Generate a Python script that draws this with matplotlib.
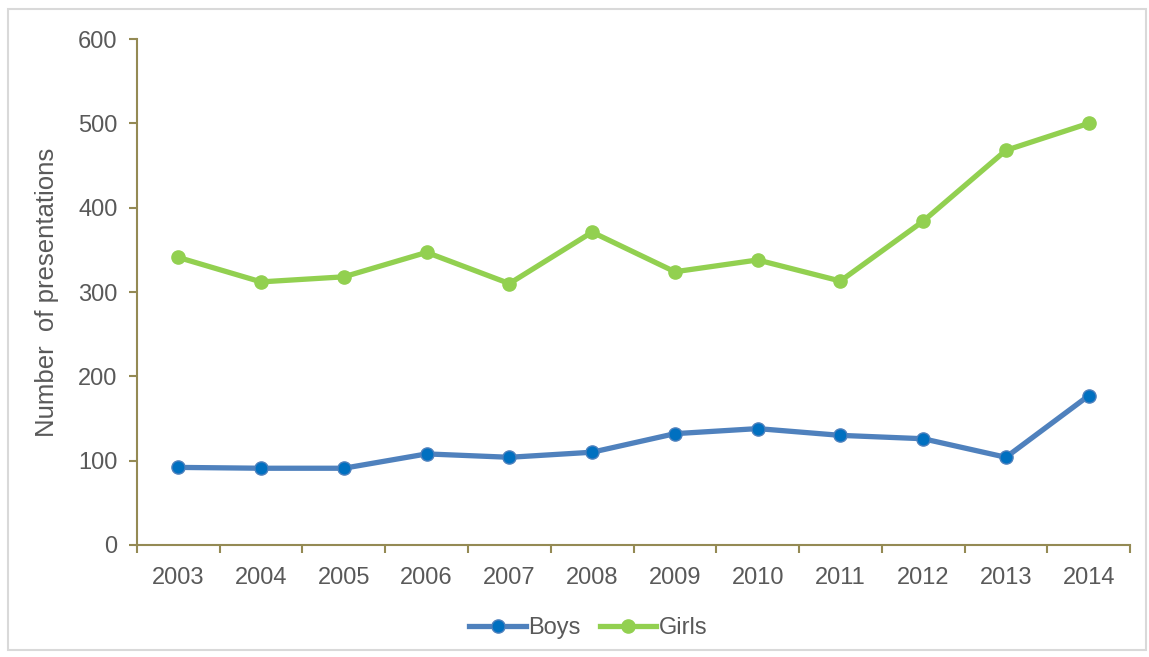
import matplotlib
matplotlib.use("Agg")
import matplotlib.pyplot as plt
from matplotlib.patches import Rectangle

years = ["2003", "2004", "2005", "2006", "2007", "2008", "2009", "2010", "2011", "2012", "2013", "2014"]
boys = [92, 91, 91, 108, 104, 110, 132, 138, 130, 126, 104, 177]
girls = [341, 312, 318, 347, 310, 371, 324, 338, 313, 384, 468, 500]

plt.rcParams['font.family'] = ['Liberation Sans', 'DejaVu Sans']
fig = plt.figure(figsize=(11.49, 6.57), dpi=100)
fig.patches.append(Rectangle((0.007, 0.01), 0.99, 0.977, transform=fig.transFigure,
                             fill=False, edgecolor='#D9D9D9', linewidth=1.5))
ax = fig.add_axes([0.1192, 0.1705, 0.8643, 0.7701])

x = list(range(len(years)))
ax.plot(x, boys, color='#4F81BD', lw=3.8, marker='o', ms=9.5, mfc='#0070C0', mec='#4F81BD', mew=1, label='Boys', solid_joinstyle='round')
ax.plot(x, girls, color='#92D050', lw=3.8, marker='o', ms=9.5, mfc='#92D050', mec='#92D050', label='Girls', solid_joinstyle='round')

ax.set_xlim(-0.5, len(years) - 0.5)
ax.set_ylim(0, 600)
ax.set_yticks(range(0, 601, 100))
ax.set_xticks(x)
ax.set_xticklabels(years)
ax.set_xticks([i - 0.5 for i in range(len(years) + 1)], minor=True)

spine_c = '#948A54'
for s in ['top', 'right']:
    ax.spines[s].set_visible(False)
for s in ['left', 'bottom']:
    ax.spines[s].set_color(spine_c)
    ax.spines[s].set_linewidth(1.5)
ax.tick_params(axis='y', direction='out', length=6, width=1.5, color=spine_c, labelsize=17, labelcolor='#595959', pad=8)
ax.tick_params(axis='x', which='major', length=0, labelsize=17, labelcolor='#595959', pad=16)
ax.tick_params(axis='x', which='minor', direction='out', length=6, width=1.5, color=spine_c)

ax.set_ylabel('Number  of presentations', fontsize=18.5, color='#595959', labelpad=14)

leg = ax.legend(loc='upper center', bbox_to_anchor=(0.4545, -0.1), ncol=2, frameon=False,
                fontsize=17, handlelength=2.4, handletextpad=0.1, columnspacing=0.8)
for t in leg.get_texts():
    t.set_color('#595959')

fig.savefig('out.png', dpi=100)
